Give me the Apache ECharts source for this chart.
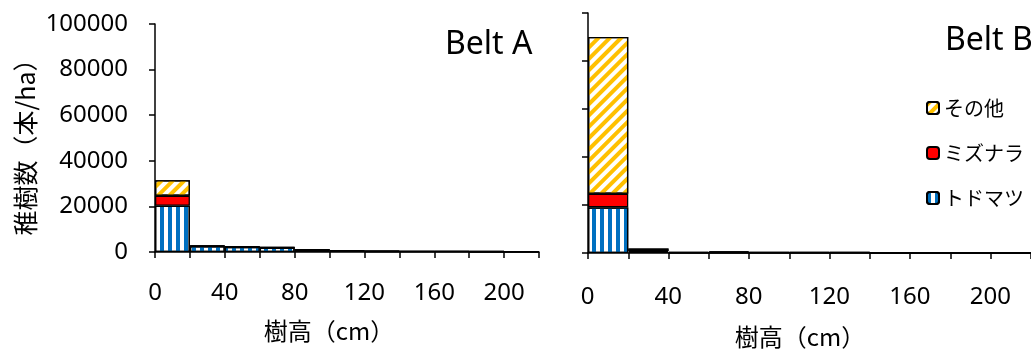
<!DOCTYPE html>
<html>
<head>
<meta charset="utf-8">
<script src="https://cdn.jsdelivr.net/npm/echarts@6/dist/echarts.min.js"></script>
<style>
html,body{margin:0;padding:0;background:#fff;}
#chart{width:1031px;height:351px;}
</style>
</head>
<body>
<div id="chart"></div>
<script>
// Height classes (cm): lower bound of each 20 cm class
const categories = ['0', '20', '40', '60', '80', '100', '120', '140', '160', '180', '200'];
const xLabelledTicks = ['0', '40', '80', '120', '160', '200'];
const yTickLabels = ['0', '20000', '40000', '60000', '80000', '100000'];

// Belt A (本/ha)
const beltA_todomatsu = [20300, 2500, 2200, 1900, 1000, 550, 350, 300, 250, 200, 150];
const beltA_mizunara  = [4400, 100, 50, 50, 50, 30, 20, 10, 10, 10, 10];
const beltA_other     = [6750, 200, 100, 50, 50, 20, 20, 10, 10, 10, 10];

// Belt B (本/ha)
const beltB_todomatsu = [19000, 500, 100, 200, 100, 100, 100, 0, 0, 0, 0];
const beltB_mizunara  = [5700, 300, 50, 100, 50, 50, 50, 0, 0, 0, 0];
const beltB_other     = [65300, 1100, 250, 400, 150, 150, 150, 0, 0, 0, 0];

const NUM_FONT = '"Noto Sans", "Noto Sans CJK JP", sans-serif';
const JP_FONT = '"Noto Sans CJK JP", "Noto Sans", sans-serif';

const styles = {
  'トドマツ': {
    color: '#ffffff', borderColor: '#000', borderWidth: 1.3,
    decal: { symbol: 'rect', color: '#0070C0', backgroundColor: null, dashArrayX: [4, 4], dashArrayY: [1, 0], symbolSize: 1, rotation: 0 }
  },
  'ミズナラ': { color: '#FF0000', borderColor: '#000', borderWidth: 1.3 },
  'その他': {
    color: '#ffffff', borderColor: '#000', borderWidth: 1.3,
    decal: { symbol: 'rect', color: '#FFC000', backgroundColor: null, dashArrayX: [1, 0], dashArrayY: [4, 4], symbolSize: 1, rotation: -Math.PI / 4 }
  }
};

function makeSeries(name, vals, idx) {
  return {
    name: name, type: 'bar', stack: 'belt' + idx,
    xAxisIndex: idx, yAxisIndex: idx,
    barWidth: '100%', barCategoryGap: '0%',
    data: vals,
    itemStyle: styles[name],
    emphasis: { disabled: true }
  };
}

function xAxisCfg(gridIndex, margin, band) {
  return {
    type: 'category', gridIndex: gridIndex, data: categories, boundaryGap: true,
    axisLine: { show: true, lineStyle: { color: '#000', width: 1.5 } },
    axisTick: { show: true, inside: false, length: 6, interval: 0, alignWithLabel: false, lineStyle: { color: '#000', width: 1.5 } },
    splitLine: { show: false },
    axisLabel: {
      interval: 0, margin: margin, color: '#000', fontSize: 24, fontFamily: NUM_FONT,
      padding: [0, band, 0, 0],
      formatter: v => xLabelledTicks.indexOf(v) >= 0 ? v : ''
    }
  };
}

function yAxisCfg(gridIndex, showLabel) {
  return {
    type: 'value', gridIndex: gridIndex, min: 0, max: 100000, interval: 20000,
    axisLine: { show: true, lineStyle: { color: '#000', width: 1.5 } },
    axisTick: { show: true, inside: false, length: 6, lineStyle: { color: '#000', width: 1.5 } },
    splitLine: { show: false },
    axisLabel: { show: showLabel, margin: 27, color: '#000', fontSize: 24, fontFamily: NUM_FONT,
      formatter: (v, i) => yTickLabels[i] }
  };
}

const chart = echarts.init(document.getElementById('chart'), null, { renderer: 'canvas' });
chart.setOption({
  animation: false,
  backgroundColor: '#fff',
  grid: [
    { left: 155, top: 24, width: 384, height: 228 },
    { left: 588, top: 13, width: 449, height: 240 }
  ],
  xAxis: [xAxisCfg(0, 29, 384 / 11), xAxisCfg(1, 32, 449 / 11)],
  yAxis: [yAxisCfg(0, true), yAxisCfg(1, false)],
  legend: {
    orient: 'vertical', left: 921, top: 93,
    itemWidth: 12, itemHeight: 12, itemGap: 25,
    data: ['その他', 'ミズナラ', 'トドマツ'],
    textStyle: { fontSize: 20, color: '#000', fontFamily: JP_FONT },
    selectedMode: false
  },
  series: [
    makeSeries('トドマツ', beltA_todomatsu, 0),
    makeSeries('ミズナラ', beltA_mizunara, 0),
    makeSeries('その他', beltA_other, 0),
    makeSeries('トドマツ', beltB_todomatsu, 1),
    makeSeries('ミズナラ', beltB_mizunara, 1),
    makeSeries('その他', beltB_other, 1)
  ],
  graphic: [
    { type: 'text', x: 25, y: 141, rotation: Math.PI / 2,
      style: { text: '稚樹数（本/ha）', font: '25px ' + JP_FONT, fill: '#000', textAlign: 'center', textVerticalAlign: 'middle', align: 'center', verticalAlign: 'middle' } },
    { type: 'text', x: 329, y: 331,
      style: { text: '樹高（cm）', font: '24px ' + JP_FONT, fill: '#000', textAlign: 'center', textVerticalAlign: 'middle', align: 'center', verticalAlign: 'middle' } },
    { type: 'text', x: 800, y: 337,
      style: { text: '樹高（cm）', font: '24px ' + JP_FONT, fill: '#000', textAlign: 'center', textVerticalAlign: 'middle', align: 'center', verticalAlign: 'middle' } },
    { type: 'text', x: 445, y: 45,
      style: { text: 'Belt A', font: '32px ' + NUM_FONT, fill: '#000', textAlign: 'left', textVerticalAlign: 'middle', align: 'left', verticalAlign: 'middle' } },
    { type: 'text', x: 945, y: 41,
      style: { text: 'Belt B', font: '32px ' + NUM_FONT, fill: '#000', textAlign: 'left', textVerticalAlign: 'middle', align: 'left', verticalAlign: 'middle' } }
  ]
});
</script>
</body>
</html>
